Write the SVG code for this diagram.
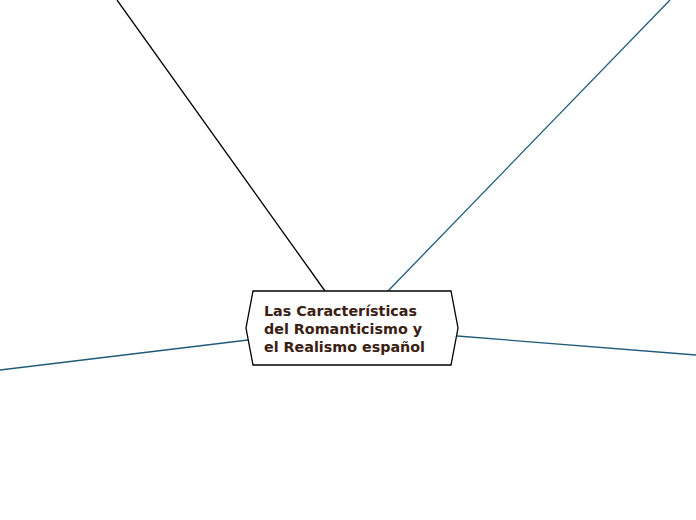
<svg xmlns="http://www.w3.org/2000/svg" width="696" height="520" viewBox="0 0 696 520">
<style>
.c{fill:none;stroke-width:1.3}
.b{stroke:#1e5b79}
.k{stroke:#000}
.t{font-family:"DejaVu Sans",sans-serif;font-weight:bold;font-size:14.3px;fill:#3a2012}
</style>
<rect width="696" height="520" fill="#fff"/>
<g id="connectors">
<line class="c k" x1="117" y1="0" x2="325" y2="291"/>
<line class="c b" x1="670" y1="0" x2="388" y2="291"/>
<line class="c b" x1="0" y1="370" x2="248" y2="340"/>
<line class="c b" x1="457" y1="336" x2="696" y2="355"/>
</g>
<g id="central">
<polygon points="253,291 451,291 458,328 451,365 253,365 246,328" fill="#fff" stroke="#000" stroke-width="1.3"/>
<text class="t" x="264" y="316">Las Características</text>
<text class="t" x="264" y="334">del Romanticismo y</text>
<text class="t" x="264" y="352">el Realismo español</text>
</g>
</svg>
